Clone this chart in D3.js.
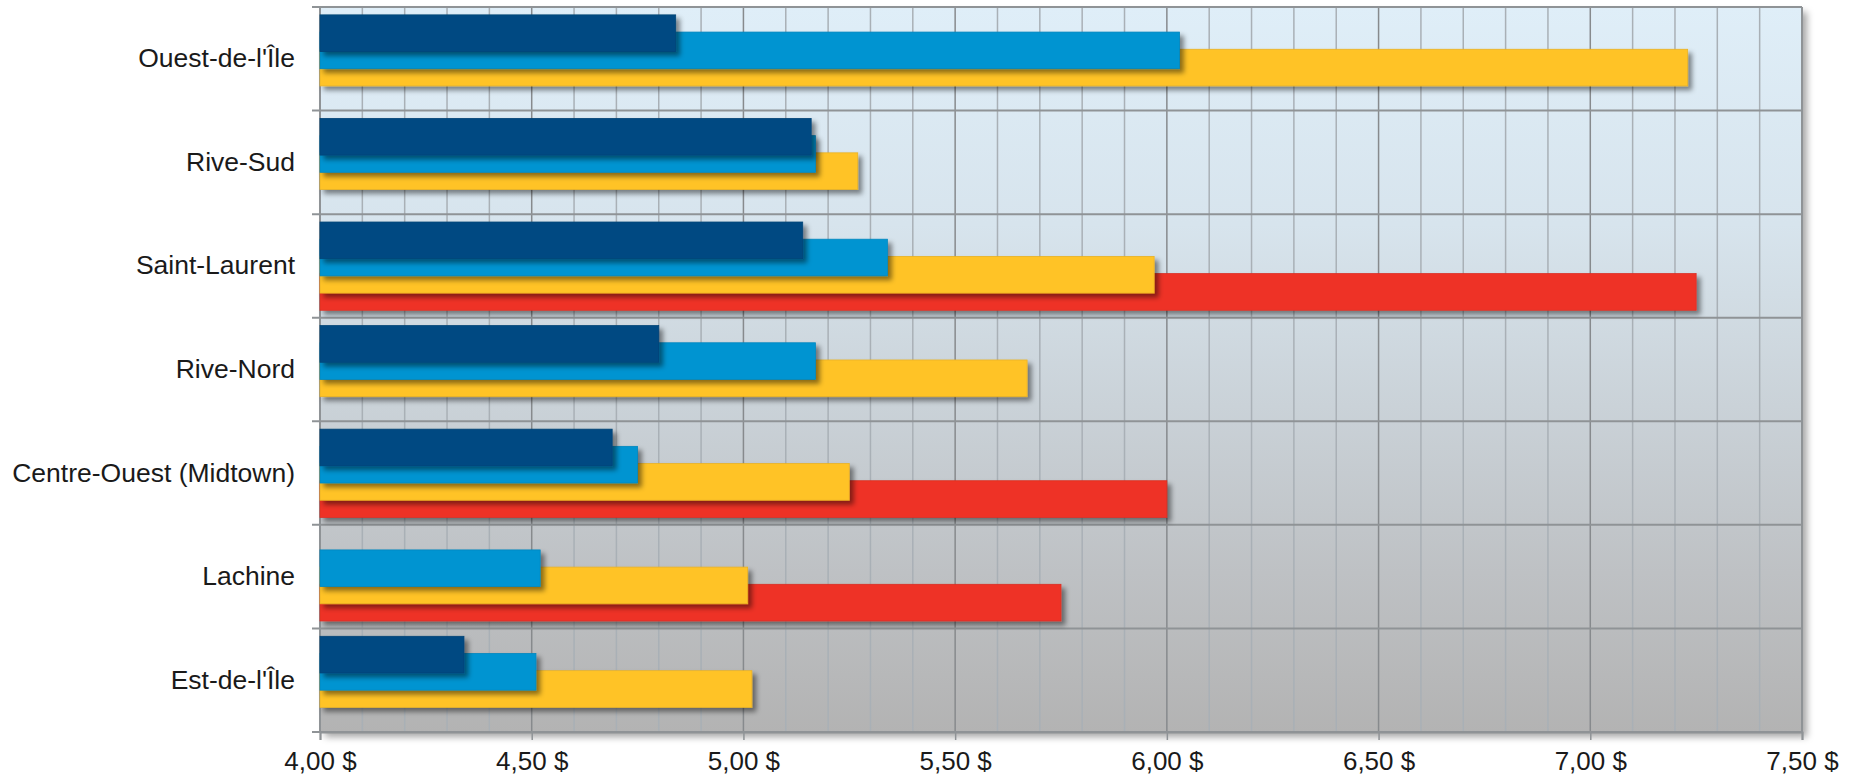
<!DOCTYPE html>
<html lang="fr">
<head>
<meta charset="utf-8">
<title>Prix moyen par secteur</title>
<script src="https://cdn.jsdelivr.net/npm/d3@7"></script>
<style>
  html, body { margin: 0; padding: 0; background: #ffffff; }
  svg { display: block; }
  text { font-family: "Liberation Sans", Arial, sans-serif; fill: #1a1a1a; }
</style>
</head>
<body>
<svg id="chart" width="1853" height="780"></svg>
<script>
// Secteurs (du haut vers le bas)
const categories = [
  "Ouest-de-l'Île",
  "Rive-Sud",
  "Saint-Laurent",
  "Rive-Nord",
  "Centre-Ouest (Midtown)",
  "Lachine",
  "Est-de-l'Île"
];

// Séries, dans l'ordre d'empilement vertical (null = aucune valeur)
const seriesNames = ["Série 1", "Série 2", "Série 3", "Série 4"];
const serie1 = [4.84, 5.16, 5.14, 4.80, 4.69, null, 4.34];
const serie2 = [6.03, 5.17, 5.34, 5.17, 4.75, 4.52, 4.51];
const serie3 = [7.23, 5.27, 5.97, 5.67, 5.25, 5.01, 5.02];
const serie4 = [null, null, 7.25, null, 6.00, 5.75, null];
const seriesColors = ["#004a82", "#0094d1", "#ffc328", "#ee3226"];

// Graduations de l'axe des prix
const majorTicks = [4.0, 4.5, 5.0, 5.5, 6.0, 6.5, 7.0, 7.5];
const xDomain = [4.0, 7.5];
const minorStep = 0.1;

const svg = d3.select("#chart");
const plot = { left: 320, right: 1802, top: 7, bottom: 732 };

const x = d3.scaleLinear().domain(xDomain).range([plot.left, plot.right]);
const y = d3.scaleBand().domain(categories).range([plot.top, plot.bottom]).padding(0);

// position of each series inside a category band
const bw = y.bandwidth();
const barH = bw * 0.354;
const slot = d3.scalePoint()
  .domain(seriesNames)
  .range([bw * 0.076, bw - bw * 0.072 - barH]);

const frCA = d3.formatLocale({
  decimal: ",", thousands: " ", grouping: [3], currency: ["", " $"]
});
const fmt = frCA.format("$.2f");

const defs = svg.append("defs");

const bg = defs.append("linearGradient")
  .attr("id", "plotBg").attr("x1", 0).attr("y1", 0).attr("x2", 0).attr("y2", 1);
bg.append("stop").attr("offset", "0%").attr("stop-color", "#dfeef8");
bg.append("stop").attr("offset", "30%").attr("stop-color", "#d7e4ed");
bg.append("stop").attr("offset", "55%").attr("stop-color", "#cad2d8");
bg.append("stop").attr("offset", "78%").attr("stop-color", "#bec1c4");
bg.append("stop").attr("offset", "100%").attr("stop-color", "#b3b3b3");

const areaShadow = defs.append("filter").attr("id", "areaShadow")
  .attr("x", "-5%").attr("y", "-5%").attr("width", "110%").attr("height", "115%");
areaShadow.append("feDropShadow")
  .attr("dx", 5).attr("dy", 5).attr("stdDeviation", 3.5)
  .attr("flood-color", "#000").attr("flood-opacity", 0.35);

const barShadow = defs.append("filter").attr("id", "barShadow")
  .attr("x", "-5%").attr("y", "-30%").attr("width", "115%").attr("height", "170%");
barShadow.append("feDropShadow")
  .attr("dx", 4).attr("dy", 4).attr("stdDeviation", 2.6)
  .attr("flood-color", "#000").attr("flood-opacity", 0.45);

// plot area
svg.append("rect")
  .attr("x", plot.left).attr("y", plot.top)
  .attr("width", plot.right - plot.left).attr("height", plot.bottom - plot.top)
  .attr("fill", "url(#plotBg)")
  .attr("filter", "url(#areaShadow)");

// vertical grid: minor then major
const minorTicks = d3.range(0, Math.round((xDomain[1] - xDomain[0]) / minorStep) + 1)
  .map(i => +(xDomain[0] + i * minorStep).toFixed(2))
  .filter(v => !majorTicks.some(m => Math.abs(m - v) < 1e-6));

svg.append("g").selectAll("line").data(minorTicks).join("line")
  .attr("x1", d => x(d)).attr("x2", d => x(d))
  .attr("y1", plot.top).attr("y2", plot.bottom)
  .attr("stroke", "#a9b0b6").attr("stroke-width", 1.5);

svg.append("g").selectAll("line").data(majorTicks).join("line")
  .attr("x1", d => x(d)).attr("x2", d => x(d))
  .attr("y1", plot.top).attr("y2", plot.bottom)
  .attr("stroke", "#878a8d").attr("stroke-width", 1.5);

// horizontal separators between categories (with small outer ticks)
const bounds = categories.map(c => y(c)).concat([plot.bottom]);
svg.append("g").selectAll("line").data(bounds).join("line")
  .attr("x1", plot.left - 8).attr("x2", plot.right)
  .attr("y1", d => d).attr("y2", d => d)
  .attr("stroke", "#8f9396").attr("stroke-width", 2);

// frame
svg.append("line")
  .attr("x1", plot.left).attr("x2", plot.left)
  .attr("y1", plot.top).attr("y2", plot.bottom)
  .attr("stroke", "#8f9396").attr("stroke-width", 2);
svg.append("line")
  .attr("x1", plot.right).attr("x2", plot.right)
  .attr("y1", plot.top).attr("y2", plot.bottom)
  .attr("stroke", "#8f9396").attr("stroke-width", 2);

// bars: last series first so earlier series overlap it
const seriesData = [serie1, serie2, serie3, serie4];
const barRows = [];
for (let s = seriesData.length - 1; s >= 0; s--) {
  seriesData[s].forEach((v, i) => {
    if (v != null) barRows.push({ cat: categories[i], s, value: v });
  });
}

svg.append("g").selectAll("rect").data(barRows).join("rect")
  .attr("x", x(xDomain[0]))
  .attr("y", d => y(d.cat) + slot(seriesNames[d.s]))
  .attr("width", d => x(d.value) - x(xDomain[0]))
  .attr("height", barH)
  .attr("fill", d => seriesColors[d.s])
  .attr("stroke", d => d3.color(seriesColors[d.s]).darker(0.25))
  .attr("stroke-width", 0.8)
  .attr("filter", "url(#barShadow)");

// x axis
const xAxis = d3.axisBottom(x)
  .tickValues(majorTicks)
  .tickFormat(fmt)
  .tickSize(8)
  .tickPadding(12);

const gx = svg.append("g")
  .attr("transform", `translate(0,${plot.bottom})`)
  .call(xAxis);
gx.select(".domain").attr("stroke", "#8f9396").attr("stroke-width", 2);
gx.selectAll(".tick line").attr("stroke", "#8f9396").attr("stroke-width", 1.5);
gx.selectAll(".tick text")
  .attr("font-size", 26)
  .attr("font-family", "'Liberation Sans', Arial, sans-serif")
  .attr("fill", "#1a1a1a");

// category labels
const yAxis = d3.axisLeft(y).tickSize(0).tickPadding(25);
const gy = svg.append("g")
  .attr("transform", `translate(${plot.left},0)`)
  .call(yAxis);
gy.select(".domain").remove();
gy.selectAll(".tick text")
  .attr("font-size", 26.5)
  .attr("font-family", "'Liberation Sans', Arial, sans-serif")
  .attr("fill", "#1a1a1a");
</script>
</body>
</html>
